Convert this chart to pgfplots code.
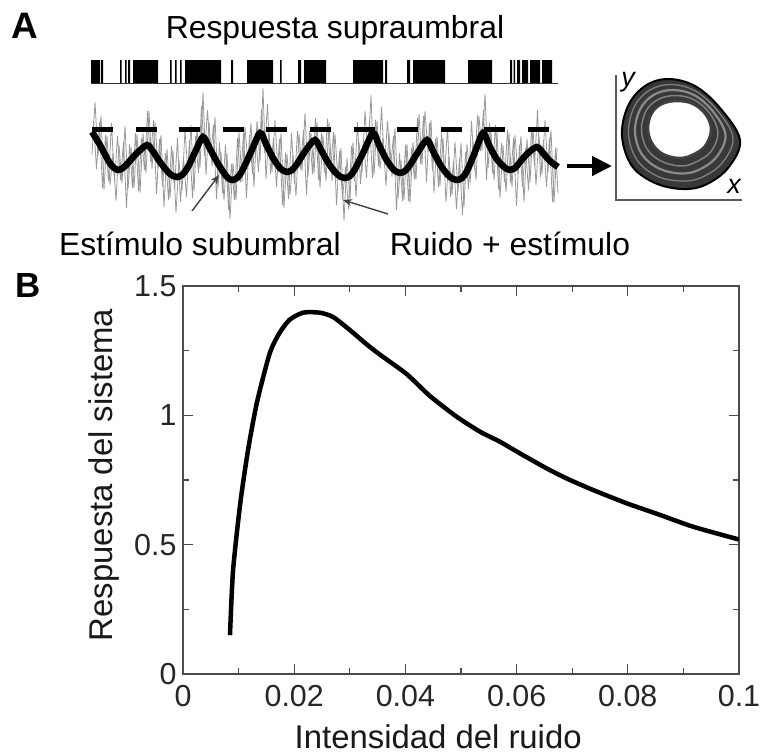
\documentclass[border=0pt]{standalone}
\usepackage{fontspec}
\setmainfont{Liberation Sans}
\usepackage{pgfplots}
\usepackage{pgfplotstable}
\pgfplotsset{compat=1.18}
\usetikzlibrary{arrows.meta}

% noisy membrane trace (stimulus + noise), schematic units
\pgfplotstableread{
x y
92 155
95 102
98 156
101 116
104 190
107 136
110 185
113 153
116 201
119 145
122 183
125 126
128 189
131 147
134 188
137 134
140 193
143 133
146 173
149 111
152 169
155 122
158 168
161 135
164 207
167 149
170 198
173 150
176 213
179 161
182 191
185 130
188 174
191 125
194 191
197 128
200 168
203 92
206 175
209 122
212 166
215 117
218 187
221 152
224 200
227 153
230 219
233 163
236 200
239 132
242 182
245 127
248 164
251 123
254 187
257 121
260 162
263 88
266 179
269 133
272 172
275 120
278 173
281 133
284 208
287 154
290 195
293 155
296 196
299 134
302 171
305 113
308 176
311 133
314 173
317 122
320 188
323 135
326 181
329 122
332 181
335 134
338 180
341 148
344 221
347 158
350 199
353 142
356 197
359 142
362 173
365 111
368 155
371 95
374 175
377 121
380 169
383 138
386 186
389 133
392 177
395 128
398 198
401 160
404 200
407 144
410 203
413 142
416 180
419 114
422 165
425 111
428 152
431 120
434 193
437 136
440 186
443 138
446 202
449 156
452 195
455 142
458 192
461 143
464 207
467 144
470 183
473 141
476 180
479 116
482 151
485 94
488 168
491 132
494 180
497 132
500 198
503 145
506 192
509 133
512 187
515 135
518 174
521 136
524 202
527 139
530 182
533 127
536 185
539 136
542 174
545 120
548 172
551 130
554 203
557 148
}\noisetrace

% second noise realisation, interleaved with the first
\pgfplotstableread{
x y
93.5 121
96.5 169
99.5 122
102.5 188
105.5 135
108.5 181
111.5 123
114.5 182
117.5 136
120.5 180
123.5 142
126.5 208
129.5 144
132.5 188
135.5 133
138.5 191
141.5 138
144.5 170
147.5 111
150.5 161
153.5 120
156.5 194
159.5 139
162.5 186
165.5 153
168.5 200
171.5 146
174.5 189
177.5 138
180.5 202
183.5 157
186.5 197
189.5 140
192.5 198
195.5 136
198.5 173
201.5 106
204.5 156
207.5 110
210.5 157
213.5 125
216.5 199
219.5 142
222.5 193
225.5 145
228.5 210
231.5 164
234.5 200
237.5 138
240.5 182
243.5 133
246.5 198
249.5 135
252.5 174
255.5 133
258.5 172
261.5 109
264.5 153
267.5 104
270.5 174
273.5 138
276.5 187
279.5 139
282.5 205
285.5 153
288.5 199
291.5 133
294.5 184
297.5 131
300.5 169
303.5 130
306.5 195
309.5 131
312.5 174
315.5 118
318.5 180
321.5 133
324.5 172
327.5 119
330.5 172
333.5 132
336.5 205
339.5 151
342.5 199
345.5 167
348.5 209
351.5 146
354.5 181
357.5 122
360.5 184
363.5 139
366.5 178
369.5 121
372.5 178
375.5 120
378.5 166
381.5 107
384.5 167
387.5 121
390.5 168
393.5 136
396.5 210
399.5 153
402.5 201
405.5 145
408.5 201
411.5 148
414.5 179
417.5 118
420.5 164
423.5 116
426.5 182
429.5 123
432.5 171
435.5 139
438.5 187
441.5 133
444.5 177
447.5 127
450.5 197
453.5 161
456.5 209
459.5 158
462.5 215
465.5 152
468.5 189
471.5 121
474.5 170
477.5 115
480.5 151
483.5 110
486.5 180
489.5 123
492.5 173
495.5 125
498.5 189
501.5 143
504.5 182
507.5 130
510.5 183
513.5 138
516.5 206
519.5 145
522.5 187
525.5 148
528.5 190
531.5 129
534.5 166
537.5 110
540.5 177
543.5 140
546.5 187
549.5 138
552.5 202
555.5 148
558 193
}\noisetraceb

% subthreshold periodic stimulus
\pgfplotstableread{
x y
92 132
100 145
108 160
113 167
118 170
123 168
128 163
137 153
147 145
152 150
160 162
168 172
173 176
177 177
182 175
188 167
196 150
203 137
209 147
217 162
224 173
228 178
232 180
237 178
242 171
251 152
260 133
266 144
273 158
280 168
284 171
287 172
292 170
297 164
306 150
315 140
321 150
329 164
336 173
341 177
345 178
350 176
355 169
364 151
373 133
379 145
386 159
393 169
397 172
400 173
405 171
410 165
418 152
427 140
433 151
441 166
448 175
453 179
457 180
462 178
467 171
475 152
483 133
489 145
496 158
503 166
507 169
510 170
515 168
520 162
528 153
537 147
543 153
550 161
558 167
}\stimulus

% system response versus noise intensity
\pgfplotstableread{
x y
0.00845 0.15
0.0090 0.40
0.0103 0.66
0.0117 0.866
0.0133 1.05
0.0156 1.24
0.0174 1.32
0.0192 1.37
0.0216 1.397
0.0246 1.397
0.0270 1.38
0.0300 1.33
0.0330 1.275
0.0354 1.235
0.0402 1.16
0.0444 1.075
0.0492 0.995
0.0534 0.937
0.0570 0.898
0.0606 0.853
0.0654 0.795
0.0690 0.756
0.0738 0.711
0.0798 0.66
0.0858 0.615
0.0918 0.569
0.1000 0.52
}\response

\begin{document}
\begin{tikzpicture}
\path[use as bounding box] (0,0) rectangle (760bp,-756bp);

% ---- panel A (coordinates in layout units, y downwards) ----
\begin{axis}[
  at={(0,0)}, anchor=north west,
  scale only axis, width=760bp, height=756bp,
  xmin=0, xmax=760, ymin=0, ymax=756, y dir=reverse,
  hide axis, clip=false]

  \node[font=\fontsize{37}{44}\selectfont\bfseries, anchor=base] at (axis cs:25,38) {A};
  \node[font=\fontsize{35}{42}\selectfont\bfseries, anchor=base] at (axis cs:28,297) {B};
  \node[font=\fontsize{32}{38}\selectfont, anchor=base] at (axis cs:335,38) {Respuesta supraumbral};
  \node[font=\fontsize{32}{38}\selectfont, anchor=base] at (axis cs:200,255) {Estímulo subumbral};
  \node[font=\fontsize{32}{38}\selectfont, anchor=base] at (axis cs:510,255) {Ruido + estímulo};

  % spike raster (suprathreshold response)
  \addplot[fill=black, draw=none] coordinates {
    (91,83)(91,60)(100,60)(100,83)
    (101,83)(101,60)(103,60)(103,83)
    (120,83)(120,60)(121.5,60)(121.5,83)
    (125,83)(125,60)(126.5,60)(126.5,83)
    (128,83)(128,60)(130,60)(130,83)
    (133,83)(133,60)(158,60)(158,83)
    (170,83)(170,60)(171.5,60)(171.5,83)
    (175,83)(175,60)(176.5,60)(176.5,83)
    (180,83)(180,60)(181.5,60)(181.5,83)
    (185,83)(185,60)(221,60)(221,83)
    (231,83)(231,60)(233,60)(233,83)
    (247,83)(247,60)(273,60)(273,83)
    (280,83)(280,60)(281.5,60)(281.5,83)
    (298,83)(298,60)(301,60)(301,83)
    (304,83)(304,60)(326,60)(326,83)
    (353,83)(353,60)(383,60)(383,83)
    (385,83)(385,60)(387,60)(387,83)
    (407,83)(407,60)(410,60)(410,83)
    (413,83)(413,60)(445,60)(445,83)
    (468,83)(468,60)(492,60)(492,83)
    (510,83)(510,60)(512,60)(512,83)
    (513.5,83)(513.5,60)(515,60)(515,83)
    (517,83)(517,60)(520,60)(520,83)
    (522,83)(522,60)(528,60)(528,83)
    (530,83)(530,60)(540,60)(540,83)
    (542,83)(542,60)(552,60)(552,83)
  } -- cycle;
  \addplot[black!80, line width=1.3bp] coordinates {(91,83.5)(558,83.5)};

  % noisy trace
  \addplot[black!40, line width=0.8bp] table[x=x, y=y] {\noisetrace};
  \addplot[black!40, line width=0.8bp] table[x=x, y=y] {\noisetraceb};

  % threshold
  \addplot[black, line width=5bp, dash pattern=on 21bp off 22.6bp] coordinates {(92,129)(550,129)};

  % stimulus
  \addplot[black, line width=6.5bp, smooth, tension=0.5] table[x=x, y=y] {\stimulus};

  % pointers to the labels
  \draw[-{Stealth[length=9bp,width=7bp]}, line width=1.4bp, black!75] (axis cs:192,211) -- (axis cs:219,175);
  \draw[-{Stealth[length=9bp,width=7bp]}, line width=1.4bp, black!75] (axis cs:388,214) -- (axis cs:343,200);

  % arrow to phase plane
  \draw[-{Triangle[length=20bp,width=19bp]}, line width=4.5bp] (axis cs:567,166) -- (axis cs:612,166);

  % phase plane axes
  \addplot[black!65, line width=1.4bp] coordinates {(616,75)(616,200)(742,200)};
  \node[font=\fontsize{27}{30}\selectfont\itshape] at (axis cs:628,82) {y};
  \node[font=\fontsize{27}{30}\selectfont\itshape] at (axis cs:734,186) {x};

  % limit cycle band
  \addplot[fill=black!78, draw=black, line width=2bp, smooth cycle, tension=0.6] coordinates {
    (740,140)(728,168)(705,185)(682,189)(655,183)(632,166)
    (622,136)(628,106)(645,86)(668,79)(695,86)(720,108)};
  \addplot[black!50, line width=1.3bp, smooth cycle, tension=0.6] coordinates {
    (733,137.5)(722.5,162.5)(701.5,177.5)(681,181)(657,176)(637,160)
    (628.5,134)(634,107.5)(649,90.5)(670.5,84.5)(694.5,90.5)(716.5,109.5)};
  \addplot[black!45, line width=2.2bp, smooth cycle, tension=0.6] coordinates {
    (725.5,135)(716.5,157)(698.5,170)(680.5,173.5)(659,168.5)(642,154.5)
    (635,132)(640,109.5)(653.5,95)(672.5,90)(694,95)(713,111.5)};
  \addplot[black!50, line width=1.5bp, smooth cycle, tension=0.6] coordinates {
    (718,132.5)(711,151.5)(695,162.5)(680,166)(661,161)(647,149)
    (641.5,130)(646,111)(658,99.5)(675,95.5)(693.5,99.5)(709.5,113)};
  \addplot[fill=white, draw=black!75, line width=2.5bp, smooth cycle, tension=0.6] coordinates {
    (711,130)(705,146)(692,155)(679,158)(663,154)(652,143)
    (648,128)(652,113)(662,104)(677,101)(693,104)(706,115)};
\end{axis}

% ---- panel B ----
\begin{axis}[
  at={(183bp,-674bp)}, anchor=south west,
  scale only axis, width=556bp, height=388bp,
  xmin=0, xmax=0.1, ymin=0, ymax=1.5,
  xtick={0,0.02,0.04,0.06,0.08,0.1},
  ytick={0,0.5,1,1.5},
  minor x tick num=1, minor y tick num=1,
  major tick length=10bp, minor tick length=6bp,
  every tick/.style={black!70, line width=1.2bp},
  axis line style={black!70, line width=1.2bp},
  /pgf/number format/assume math mode=true,
  scaled x ticks=false, scaled y ticks=false,
  xticklabel style={/pgf/number format/fixed, /pgf/number format/precision=2, yshift=-8bp},
  yticklabel style={xshift=-3bp},
  ticklabel style={font=\fontsize{30.5}{36}\selectfont, text=black!85},
  xlabel={Intensidad del ruido},
  ylabel={Respuesta del sistema},
  label style={font=\fontsize{33}{40}\selectfont, text=black!90},
  xlabel style={at={(axis description cs:0.459,-0.193)}, anchor=base},
  ylabel style={at={(axis description cs:-0.142,0.513)}, anchor=center},
]
  \addplot[black, line width=4.5bp, smooth, tension=0.4] table[x=x, y=y] {\response};
\end{axis}
\end{tikzpicture}
\end{document}
